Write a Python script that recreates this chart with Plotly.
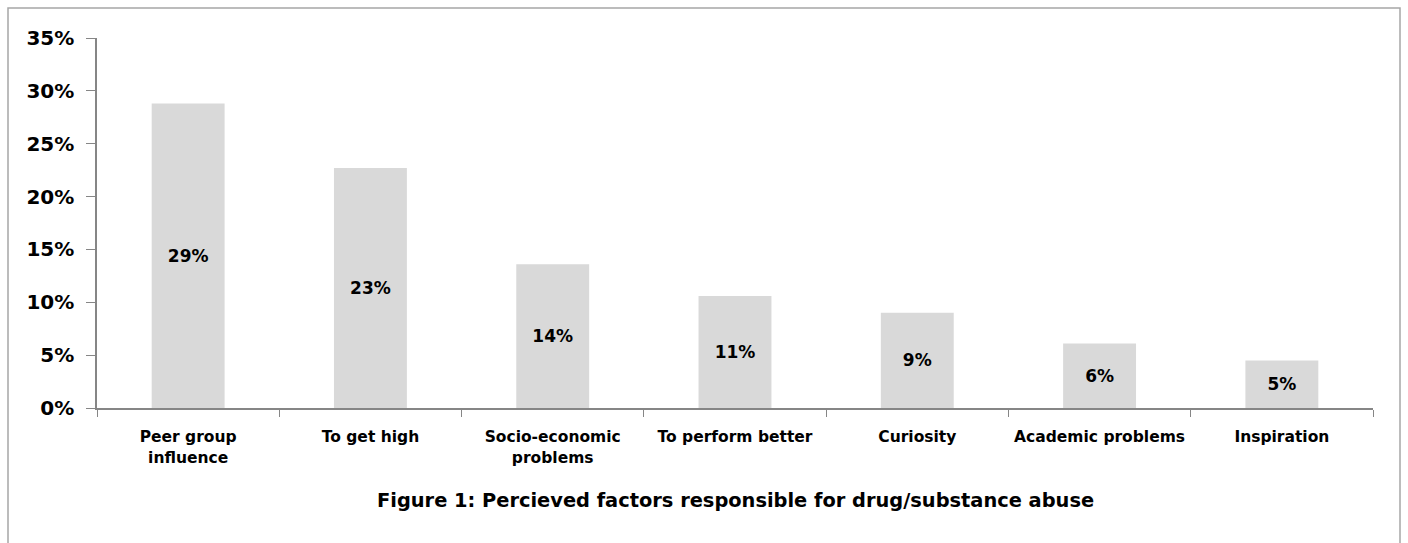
import plotly.graph_objects as go

categories = ["Peer group<br>influence", "To get high", "Socio-economic<br>problems",
              "To perform better", "Curiosity", "Academic problems", "Inspiration"]
values = [0.288, 0.227, 0.136, 0.106, 0.090, 0.061, 0.045]
labels = ["29%", "23%", "14%", "11%", "9%", "6%", "5%"]
y_ticks = [0, 0.05, 0.10, 0.15, 0.20, 0.25, 0.30, 0.35]
title_text = "Figure 1: Percieved factors responsible for drug/substance abuse"

FONT = "DejaVu Sans"
W, H = 1408, 543
ML, MR, MT, MB = 97, 35, 38, 135
pw, ph = W - ML - MR, H - MT - MB

def px_x(x):
    return (x - ML) / pw

def px_y(y):
    return (H - MB - y) / ph

fig = go.Figure(go.Bar(
    x=categories, y=values, width=0.4,
    marker=dict(color="#d9d9d9", line=dict(width=0)),
    text=labels, textposition="inside", insidetextanchor="middle", textangle=0,
    textfont=dict(family=FONT, size=17, color="black", weight="bold"),
    hoverinfo="skip",
))

fig.update_layout(
    width=W, height=H,
    margin=dict(l=ML, r=MR, t=MT, b=MB),
    paper_bgcolor="white", plot_bgcolor="white",
    showlegend=False,
    font=dict(family=FONT, color="black"),
    xaxis=dict(
        type="category", tickson="boundaries", ticks="outside", ticklen=7,
        tickcolor="#868686", showline=True, linecolor="#868686", linewidth=1.5,
        showgrid=False, zeroline=False, tickangle=0,
        tickfont=dict(family=FONT, size=15.5, color="black", weight="bold"),
        ticklabelstandoff=14,
    ),
    yaxis=dict(
        range=[0, 0.35], tickvals=y_ticks, tickformat=".0%", ticks="outside",
        ticklen=9, tickcolor="#868686", showline=True, linecolor="#868686",
        linewidth=1.5, showgrid=False, zeroline=False,
        tickfont=dict(family=FONT, size=20, color="black", weight="bold"),
        ticklabelstandoff=8,
    ),
    shapes=[dict(type="rect", xref="paper", yref="paper",
                 x0=px_x(8), x1=px_x(1400), y0=px_y(600), y1=px_y(8),
                 line=dict(color="#a6a6a6", width=1.5), layer="below")],
    annotations=[dict(text="<b>" + title_text + "</b>", xref="paper", yref="paper",
                      x=0.5, y=px_y(500), xanchor="center", yanchor="middle",
                      showarrow=False, font=dict(family=FONT, size=19.4, color="black"))],
)

fig.write_html("out.html")
